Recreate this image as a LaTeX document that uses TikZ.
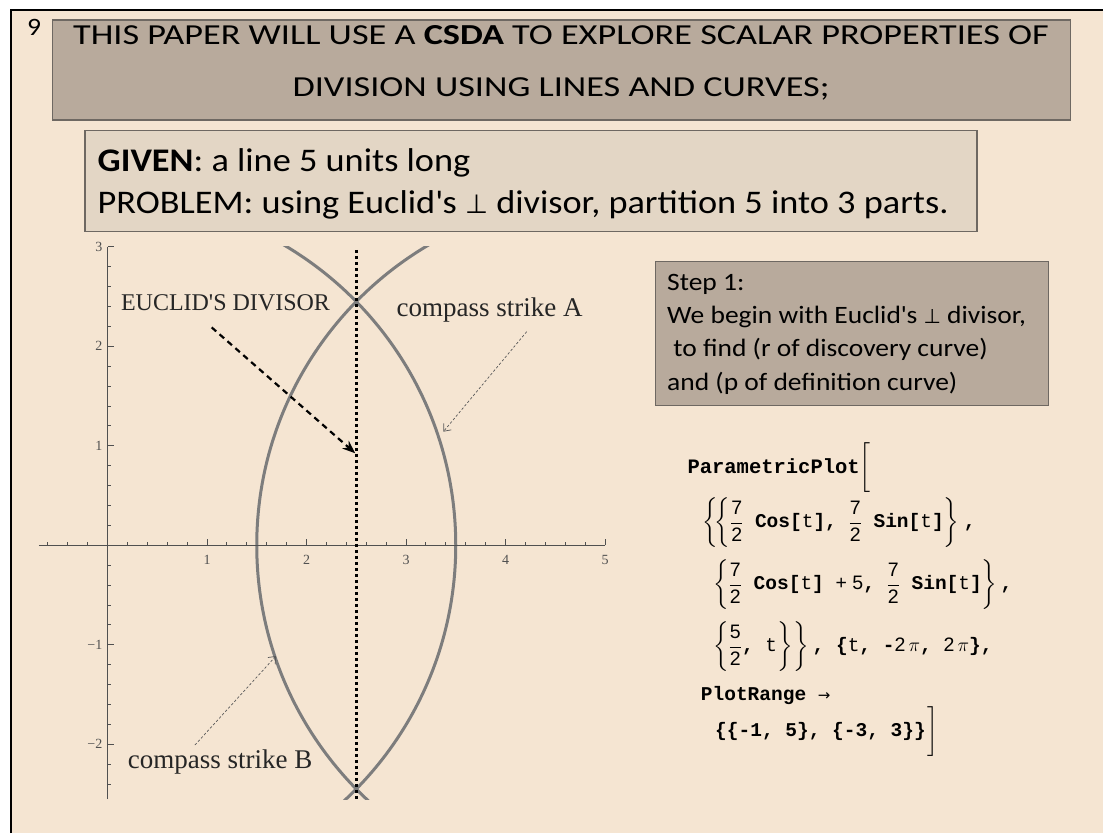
\RequirePackage{fix-cm}
\documentclass[tikz,border=0pt]{standalone}
\usepackage{amsmath}
\usepackage{fontspec}
\setmainfont{Carlito}[FakeStretch=1.1]
\newfontfamily\titlefont{Carlito}[FakeStretch=1.25]
\newfontfamily\plotfont{Liberation Serif}
\newfontfamily\codefont{Liberation Mono}
\newfontfamily\numfont{Liberation Sans}
\newfontfamily\symfont{DejaVu Sans}
\usetikzlibrary{arrows.meta}
\definecolor{slidebg}{RGB}{245,229,210}
\definecolor{boxdark}{RGB}{184,170,156}
\definecolor{boxlight}{RGB}{227,214,197}
\definecolor{boxline}{RGB}{110,104,98}
\definecolor{axisgray}{RGB}{80,80,80}
\definecolor{curvegray}{RGB}{125,125,125}
\newcommand{\cd}[1]{\mbox{\codefont\bfseries #1}}
\newcommand{\tv}{\mbox{\codefont t}}
\newcommand{\fr}[2]{\dfrac{\mbox{\numfont #1}}{\mbox{\numfont #2}}}
\newcommand{\perpsym}{{\symfont\scalebox{0.8}{⊥}}}
\begin{document}
\begin{tikzpicture}[x=1pt,y=-1pt,
  slidebox/.style={draw=boxline,line width=1.4pt,inner sep=0pt,anchor=north west},
  ticklbl/.style={font=\plotfont\fontsize{14}{14}\selectfont,text=axisgray,inner sep=1pt},
  plotlbl/.style={font=\plotfont\fontsize{27}{27}\selectfont,text=black!85,inner sep=0pt},
  codeline/.style={anchor=west,inner sep=0pt,font=\fontsize{19.5}{24}\selectfont},
  curve/.style={curvegray,line width=3pt},
  strike/.style={gray!70!black,line width=0.7pt,dash pattern=on 2.5pt off 2pt,-{Straight Barb[length=6pt,width=10pt]}}]
\useasboundingbox (0,0) rectangle (1103,833);
\fill[white] (0,0) rectangle (1103,833);
\fill[slidebg] (10.5,10) rectangle (1103,833);
\draw[line width=2pt] (10.5,833) -- (10.5,10) -- (1103,10);
\node[font=\fontsize{25}{25}\selectfont] (num) at (34,27) {9};
% title and problem
\node[slidebox,fill=boxdark,minimum width=1018pt,minimum height=100pt] (title) at (52,19.3) {};
\node[align=center,font=\titlefont\fontsize{29}{52}\selectfont,inner sep=0pt] (titletxt) at (561,63)
  {THIS PAPER WILL USE A \textbf{CSDA} TO EXPLORE SCALAR PROPERTIES OF\\DIVISION USING LINES AND CURVES;};
\node[slidebox,fill=boxlight,minimum width=892pt,minimum height=100.5pt] (given) at (84.3,130) {};
\node[anchor=west,align=left,font=\fontsize{33}{42}\selectfont,inner sep=0pt] (giventxt) at (97.5,184)
  {\textbf{GIVEN}: a line 5 units long\\PROBLEM: using Euclid\textquotesingle s \perpsym{} divisor, partition 5 into 3 parts.};
\node[slidebox,fill=boxdark,minimum width=393pt,minimum height=144.5pt] (step) at (655,260.5) {};
\node[anchor=west,align=left,font=\fontsize{25}{33.3}\selectfont,inner sep=0pt] (steptxt) at (667,334)
  {Step 1:\\We begin with Euclid\textquotesingle s \perpsym{} divisor,\\\hspace*{0.25em}to find (r of discovery curve)\\and (p of definition curve)};
% the plot
\begin{scope}[shift={(107.5,545.3)},x=99.5pt,y=99.5pt]
\begin{scope}
\clip (-1,-2.55) rectangle (5.2,3.0);
\draw[curve] (0,0) circle (3.5);
\draw[curve] (5,0) circle (3.5);
\end{scope}
\draw[axisgray,line width=1.3pt] (-0.69,0) -- (5.0,0);
\draw[axisgray,line width=1.3pt] (0,-2.55) -- (0,3.0);
\foreach \t in {-0.6,-0.4,...,4.9} \draw[axisgray,line width=1pt] (\t,0) -- ++(0,0.035);
\foreach \t in {1,...,5} {
  \draw[axisgray,line width=1pt] (\t,0) -- ++(0,0.06);
  \node[ticklbl] (xl\t) at (\t,-0.15) {\t};
}
\foreach \t in {-2.4,-2.2,...,2.9} \draw[axisgray,line width=1pt] (0,\t) -- ++(0.035,0);
\foreach \t/\l in {-2/−2,-1/−1,1/1,2/2,3/3} {
  \draw[axisgray,line width=1pt] (0,\t) -- ++(0.07,0);
  \node[ticklbl,anchor=east] (yl\t) at (-0.04,\t) {\l};
}
\draw[line width=3pt,dash pattern=on 3pt off 3pt] (2.5,2.97) -- (2.5,-2.55);
\node[plotlbl,font=\plotfont\fontsize{24}{24}\selectfont] (euclid) at (1.186,2.437) {EUCLID'S DIVISOR};
\node[plotlbl] (strikeA) at (3.841,2.365) {compass strike A};
\node[plotlbl] (strikeB) at (1.131,-2.175) {compass strike B};
\coordinate (euStart) at (1.047,2.19);
\coordinate (euTip) at (2.49,0.925);
\coordinate (aStart) at (4.213,2.147);
\coordinate (aTip) at (3.375,1.142);
\coordinate (bStart) at (0.879,-2.007);
\coordinate (bTip) at (1.693,-1.113);
\draw[line width=2.2pt,dash pattern=on 6pt off 4.5pt,-{Stealth[length=13pt,width=10pt]}] (euStart) -- (euTip);
\draw[strike] (aStart) -- (aTip);
\draw[strike] (bStart) -- (bTip);
\end{scope}
% mathematica input
\node[codeline,font=\fontsize{20.5}{24}\selectfont] (c1) at (687.3,468) {\cd{ParametricPlot}$\left[\vphantom{\fr72}\right.$};
\node[codeline] (c2) at (702,523) {$\left\{\!\left\{\fr72\cd{ Cos[}\tv\cd{], }\fr72\cd{ Sin[}\tv\cd{]}\right\}\right.\cd{,}$};
\node[codeline] (c3) at (713,585) {$\left\{\fr72\cd{ Cos[}\tv\cd{] }\mbox{\numfont + 5}\cd{, }\fr72\cd{ Sin[}\tv\cd{]}\right\}\cd{,}$};
\node[codeline] (c4) at (713,647) {$\left\{\fr52\cd{, }\tv\right\}\!\left.\vphantom{\fr52}\right\}\cd{, \{}\tv\cd{, -}\mbox{\numfont 2}\,\pi\cd{, }\mbox{\numfont 2}\,\pi\cd{\},}$};
\node[codeline] (c5) at (700.7,695) {\cd{PlotRange }{\symfont\fontsize{15}{15}\selectfont →}};
\node[codeline] (c6) at (715,732) {\cd{\{\{-1, 5\}, \{-3, 3\}\}}$\left.\vphantom{\fr72}\right]$};
\end{tikzpicture}
\end{document}
